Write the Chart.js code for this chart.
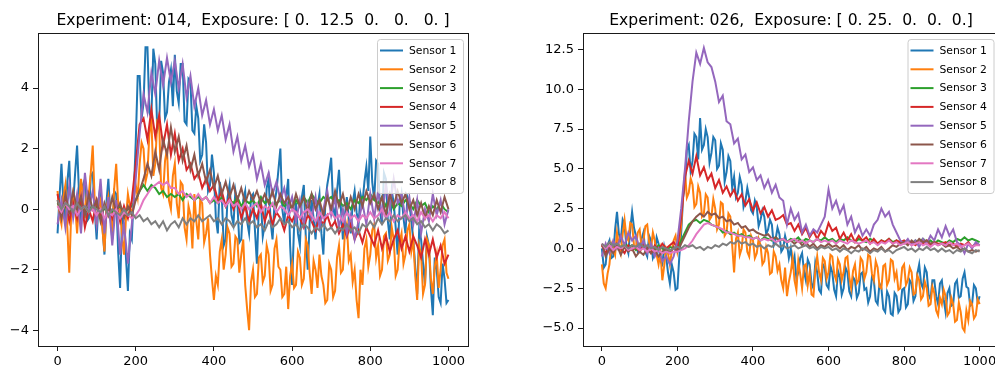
<!DOCTYPE html>
<html>
<head>
<meta charset="utf-8">
<script src="https://cdn.jsdelivr.net/npm/chart.js@4.4.1/dist/chart.umd.min.js"></script>
<style>
html, body { margin:0; padding:0; background:#fff; overflow:hidden; }
body { width:995px; height:369px; position:relative; font-family:"DejaVu Sans", sans-serif; }
.plot { position:absolute; top:0; }
.title { position:absolute; top:12px; font-size:15.6px; line-height:16px; white-space:pre; transform:translateX(-50%); color:#000; }
</style>
</head>
<body>
<div class="plot" style="left:0"><canvas id="leftChart" width="480" height="369"></canvas></div>
<div class="plot" style="left:490px"><canvas id="rightChart" width="520" height="369"></canvas></div>
<div class="title" id="leftTitle" style="left:253px"></div>
<div class="title" id="rightTitle" style="left:791px"></div>
<script>
// sample positions, every 10th step
const xValues = [
  0, 10, 20, 30, 40, 50, 60, 70, 80, 90,
  100, 110, 120, 130, 140, 150, 160, 170, 180, 190,
  200, 210, 220, 230, 240, 250, 260, 270, 280, 290,
  300, 310, 320, 330, 340, 350, 360, 370, 380, 390,
  400, 410, 420, 430, 440, 450, 460, 470, 480, 490,
  500, 510, 520, 530, 540, 550, 560, 570, 580, 590,
  600, 610, 620, 630, 640, 650, 660, 670, 680, 690,
  700, 710, 720, 730, 740, 750, 760, 770, 780, 790,
  800, 810, 820, 830, 840, 850, 860, 870, 880, 890,
  900, 910, 920, 930, 940, 950, 960, 970, 980, 990,
  1000];
// every 5th step, for the noisiest sensors
const xFine = [
  0, 5, 10, 15, 20, 25, 30, 35, 40, 45, 50, 55, 60, 65, 70, 75, 80, 85, 90, 95,
  100, 105, 110, 115, 120, 125, 130, 135, 140, 145, 150, 155, 160, 165, 170, 175, 180, 185, 190, 195,
  200, 205, 210, 215, 220, 225, 230, 235, 240, 245, 250, 255, 260, 265, 270, 275, 280, 285, 290, 295,
  300, 305, 310, 315, 320, 325, 330, 335, 340, 345, 350, 355, 360, 365, 370, 375, 380, 385, 390, 395,
  400, 405, 410, 415, 420, 425, 430, 435, 440, 445, 450, 455, 460, 465, 470, 475, 480, 485, 490, 495,
  500, 505, 510, 515, 520, 525, 530, 535, 540, 545, 550, 555, 560, 565, 570, 575, 580, 585, 590, 595,
  600, 605, 610, 615, 620, 625, 630, 635, 640, 645, 650, 655, 660, 665, 670, 675, 680, 685, 690, 695,
  700, 705, 710, 715, 720, 725, 730, 735, 740, 745, 750, 755, 760, 765, 770, 775, 780, 785, 790, 795,
  800, 805, 810, 815, 820, 825, 830, 835, 840, 845, 850, 855, 860, 865, 870, 875, 880, 885, 890, 895,
  900, 905, 910, 915, 920, 925, 930, 935, 940, 945, 950, 955, 960, 965, 970, 975, 980, 985, 990, 995,
  1000];

const sensorNames = ["Sensor 1", "Sensor 2", "Sensor 3", "Sensor 4", "Sensor 5", "Sensor 6", "Sensor 7", "Sensor 8"];

const leftTitle = "Experiment: 014,  Exposure: [ 0.  12.5  0.   0.   0. ]";
const rightTitle = "Experiment: 026,  Exposure: [ 0. 25.  0.  0.  0.]";

const xTicks = [0, 200, 400, 600, 800, 1000];
const xTickLabels = ["0", "200", "400", "600", "800", "1000"];
const leftYTicks = [-4, -2, 0, 2, 4];
const leftYLabels = ["\u22124", "\u22122", "0", "2", "4"];
const rightYTicks = [-5, -2.5, 0, 2.5, 5, 7.5, 10, 12.5];
const rightYLabels = ["\u22125.0", "\u22122.5", "0.0", "2.5", "5.0", "7.5", "10.0", "12.5"];

// experiment 014
const left1 = [
  -0.8, 0.4, 1.5, 0.2, -0.5, 0.9, 1.6, -0.2, 0.2, 1.2, 2.1, 0.5, -0.6, 0.8, 1.0, -0.4, -0.3, 1.1, 1.2, 0.0,
  -1.0, 0.3, 0.8, -0.6, -1.5, 0.2, 1.0, -0.2, -1.0, 0.6, 0.5, -1.4, -2.6, -0.3, -0.5, -1.6, -2.7, -0.8, -1.0, 0.5,
  2.2, 4.4, 4.4, 3.0, 3.5, 5.35, 5.35, 3.2, 3.0, 5.3, 4.8, 2.6, 2.8, 4.9, 4.5, 3.0, 3.2, 4.2, 4.6, 3.4,
  5.1, 3.9, 3.5, 4.8, 4.8, 2.9, 2.8, 4.3, 4.2, 2.6, 2.5, 3.4, 3.0, 1.6, 1.8, 2.8, 2.2, 0.6, 0.8, 1.8,
  1.2, -0.3, -0.8, 0.9, 0.5, -1.2, -1.0, 0.4, 0.8, -0.2, -0.5, 0.6, 0.2, -1.1, -1.0, 0.3, 0.6, -0.4, -0.8, 0.4,
  0.5, -0.7, -1.8, 0.1, 0.3, -0.9, -0.5, 0.7, 1.0, -0.4, -1.0, 0.2, 0.6, 1.3, 2.0, 0.0, -0.5, 0.4, 1.0, -1.2,
  -2.5, -0.6, 0.2, -0.8, -1.2, 0.4, 0.8, -0.9, -2.0, -0.4, 0.3, -0.3, -1.0, 0.1, 0.5, -0.8, -1.5, 0.2, 0.8, 1.2,
  1.7, 0.1, -0.3, 0.6, 1.3, 0.0, -1.0, -0.2, 0.4, -0.3, -0.8, 0.2, 0.6, -0.1, -0.5, 0.5, 0.2, 0.9, 1.4, 0.6,
  2.4, 0.9, 0.3, 1.6, 1.5, -0.1, -0.5, 1.2, 1.0, -0.4, -1.0, 0.6, 0.2, -0.6, -1.5, 0.1, 0.5, -0.3, -0.8, 0.4,
  0.2, -0.4, -1.0, -1.9, -2.8, -0.7, -1.0, -1.8, -2.5, -0.9, -1.2, -2.6, -3.5, -1.6, -2.0, -2.9, -3.1, -1.8, -2.3, -3.1,
  -3.0];
const left2 = [
  0.6, -0.2, -0.5, 0.4, 0.8, -0.6, -2.1, -0.1, 0.5, 0.1, -0.8, 0.2, 1.0, 0.4, -0.3, 0.6, 0.5, 1.2, 2.1, 0.3,
  -0.5, 0.1, 0.3, -0.7, -1.4, 0.0, 0.4, -0.3, -0.6, 0.7, 1.5, 0.2, 0.0, -0.9, -1.5, -0.3, 0.5, 0.1, -0.2, 0.3,
  0.8, 0.4, 1.5, 2.2, 2.0, 0.9, 1.2, 2.5, 3.0, 1.1, 1.5, 2.9, 2.8, 0.7, 0.5, 1.6, 2.0, 0.3, 0.0, 1.1,
  1.5, 0.2, -0.3, 0.9, 0.8, -0.6, -1.0, 0.1, -0.2, -1.3, 0.5, -0.4, -1.0, 0.3, 0.2, -1.1, -0.8, -0.3, -1.5, -2.3,
  -3.0, -2.2, -2.5, -1.4, -1.0, -2.0, -1.5, -0.6, -0.8, -1.9, -1.8, -0.9, -1.0, -2.1, -1.5, -1.0, -2.5, -3.3, -4.0, -2.4,
  -2.0, -2.9, -2.8, -1.6, -1.5, -2.4, -2.2, -1.2, -1.5, -2.7, -2.5, -1.3, -1.0, -1.9, -2.0, -2.9, -2.8, -1.9, -3.3, -2.2,
  -1.8, -2.6, -2.5, -1.4, -1.6, -2.5, -2.3, -1.0, -1.2, -2.1, -2.8, -1.7, -2.0, -2.6, -1.5, -2.2, -2.5, -3.1, -3.0, -1.8,
  -2.0, -2.9, -2.7, -1.6, -1.2, -2.1, -2.0, -0.8, -0.5, -1.7, -1.5, -2.4, -2.0, -3.0, -3.6, -2.0, -2.5, -1.3, -1.0, -1.9,
  -1.5, -0.7, -0.5, -1.6, -1.2, -2.2, -2.0, -0.9, -0.8, -1.7, -1.5, -0.6, -1.0, -2.2, -2.0, -1.1, -0.8, -1.8, -1.5, -0.7,
  -0.5, -1.4, -1.0, -2.2, -3.0, -1.2, -1.5, -2.8, -2.5, -1.0, -1.2, -2.3, -2.8, -1.9, -1.5, -2.6, -2.0, -1.2, -1.0, -2.1,
  -2.3];
const left3 = [
  0.2, 0.0, 0.1, -0.1, 0.1, 0.0, 0.2, -0.1, 0.1, 0.0,
  0.1, -0.1, 0.0, 0.1, -0.1, 0.0, 0.1, -0.1, 0.0, 0.1,
  0.3, 0.6, 0.8, 0.6, 0.8, 0.7, 0.5, 0.6, 0.4, 0.5,
  0.4, 0.5, 0.3, 0.5, 0.4, 0.3, 0.4, 0.3, 0.4, 0.2,
  0.3, 0.2, 0.4, 0.1, 0.3, 0.2, 0.4, 0.1, 0.3, 0.2,
  0.3, 0.1, 0.4, 0.2, 0.3, 0.1, 0.2, 0.3, 0.1, 0.2,
  0.0, 0.3, 0.1, 0.4, 0.2, 0.5, 0.3, 0.2, 0.4, 0.3,
  0.4, 0.2, 0.3, 0.1, 0.2, 0.0, 0.3, 0.2, 0.4, 0.3,
  0.5, 0.3, 0.2, 0.4, 0.1, 0.3, 0.0, 0.2, 0.1, 0.3,
  0.2, 0.0, 0.3, 0.1, 0.2, -0.1, 0.1, 0.0, 0.2, 0.0,
  -0.1];
const left4 = [
  0.5, -0.2, 0.3, -0.4, 0.2, -0.3, 0.4, -0.6, 0.0, -0.4,
  0.3, -0.2, -0.6, 0.1, -0.3, 0.2, -0.4, 0.1, -0.3, 0.3,
  1.5, 2.8, 3.0, 2.3, 3.3, 2.4, 3.1, 2.1, 2.8, 1.8,
  2.5, 1.6, 2.0, 1.3, 1.5, 1.0, 1.2, 0.7, 1.0, 0.6,
  0.8, 0.3, 0.6, 0.1, 0.4, 0.0, 0.3, -0.3, 0.1, -0.4,
  0.0, -0.3, 0.2, -0.4, 0.0, -0.5, -0.1, -0.3, -0.7, -0.2,
  -0.4, -0.1, -0.3, -0.6, -0.2, -0.4, -0.7, -0.3, -0.5, -0.2,
  -0.6, -0.4, -0.8, -0.5, -0.9, -0.5, -1.0, -0.7, -1.1, -0.6,
  -0.9, -1.2, -0.7, -1.3, -0.9, -1.4, -1.0, -0.7, -1.3, -0.9,
  -1.4, -0.9, -1.2, -1.6, -1.0, -1.5, -1.0, -1.6, -1.2, -1.8,
  -1.5];
const left5 = [
  -0.5, 0.3, -0.6, 0.8, -0.3, 0.5, -0.8, 1.2, 0.0, 0.6,
  -0.5, 1.0, -0.8, 0.4, -1.2, 0.3, -1.5, -0.5, -1.8, -0.5,
  1.0, 2.5, 3.8, 3.2, 4.5, 3.8, 4.9, 4.1, 5.0, 4.2,
  4.9, 4.0, 4.8, 3.7, 4.4, 3.4, 4.0, 3.1, 3.6, 2.8,
  3.3, 2.6, 3.1, 2.3, 2.8, 1.9, 2.4, 1.6, 2.1, 1.4,
  1.8, 1.0, 1.5, 0.8, 1.2, 0.5, 0.9, 0.3, 0.7, 0.0,
  0.4, -0.4, 0.3, -0.5, 0.2, -0.3, 0.4, -0.6, 0.0, 0.6,
  -0.2, 0.4, -0.6, 0.0, -0.8, -0.2, -1.0, -0.4, 0.2, -0.5,
  0.5, -0.3, 0.6, -0.2, 0.8, 0.0, 1.0, 0.2, 0.5, -0.3,
  0.4, -0.5, 0.3, -0.8, 0.0, -0.4, 0.5, -0.2, 0.3, -0.5,
  0.0];
const left6 = [
  0.3, -0.3, 0.5, -0.1, 0.6, 0.0, 0.4, -0.2, 0.5, 0.0,
  0.3, -0.4, 0.2, -0.2, 0.4, -0.1, 0.2, -0.3, 0.1, -0.2,
  0.3, 0.6, 1.0, 1.5, 1.1, 1.9, 1.3, 2.3, 1.8, 2.7,
  1.9, 2.4, 1.6, 2.1, 1.3, 1.8, 1.1, 1.5, 0.9, 1.3,
  0.7, 1.1, 0.5, 0.9, 0.4, 0.8, 0.3, 0.7, 0.2, 0.6,
  0.3, 0.6, 0.2, 0.5, 0.2, 0.6, 0.1, 0.5, 0.2, 0.4,
  0.0, 0.5, 0.1, 0.4, -0.1, 0.5, 0.0, 0.3, -0.2, 0.4,
  0.0, 0.6, 0.1, 0.5, -0.1, 0.4, 0.0, 0.5, 0.1, 0.6,
  0.2, 0.5, 0.0, 0.4, -0.2, 0.5, 0.1, 0.6, 0.2, 0.5,
  0.0, 0.3, -0.2, 0.2, -0.3, 0.1, -0.2, 0.3, -0.1, 0.4,
  0.0];
const left7 = [
  0.1, -0.1, 0.2, 0.0, 0.1, -0.2, 0.0, 0.1, -0.1, 0.0,
  -0.2, 0.0, -0.3, -0.1, -0.2, 0.0, -0.3, -0.1, -0.2, -0.3,
  -0.2, 0.0, 0.3, 0.5, 0.7, 0.8, 0.9, 0.8, 0.9, 0.7,
  0.7, 0.5, 0.6, 0.4, 0.5, 0.3, 0.5, 0.3, 0.4, 0.2,
  0.4, 0.2, 0.3, 0.1, 0.3, 0.1, 0.2, 0.0, 0.2, 0.0,
  0.1, 0.2, -0.1, 0.1, 0.0, 0.2, -0.1, 0.1, 0.0, -0.2,
  0.0, -0.1, -0.3, -0.1, 0.0, -0.2, -0.4, -0.1, -0.3, -0.2,
  -0.1, -0.3, -0.2, -0.4, -0.1, -0.3, -0.2, -0.4, -0.2, -0.3,
  -0.1, -0.3, -0.2, 0.0, -0.3, -0.1, -0.4, -0.2, -0.3, -0.1,
  -0.3, -0.2, -0.4, -0.1, -0.3, -0.2, -0.4, -0.2, -0.3, -0.1,
  -0.3];
const left8 = [
  0.3, 0.0, 0.2, 0.1, -0.1, 0.2, 0.0, 0.1, -0.1, 0.1,
  0.0, -0.1, 0.1, -0.2, 0.0, -0.1, -0.2, 0.0, -0.2, -0.1,
  -0.3, -0.2, -0.4, -0.3, -0.5, -0.4, -0.6, -0.4, -0.7, -0.5,
  -0.4, -0.6, -0.3, -0.5, -0.3, -0.4, -0.2, -0.4, -0.3, -0.2,
  -0.4, -0.3, -0.5, -0.3, -0.4, -0.6, -0.4, -0.5, -0.3, -0.5,
  -0.4, -0.6, -0.5, -0.7, -0.4, -0.6, -0.5, -0.3, -0.5, -0.4,
  -0.6, -0.5, -0.7, -0.5, -0.6, -0.8, -0.6, -0.7, -0.5, -0.7,
  -0.6, -0.8, -0.6, -0.7, -0.5, -0.7, -0.6, -0.8, -0.5, -0.6,
  -0.4, -0.6, -0.3, -0.5, -0.3, -0.4, -0.2, -0.4, -0.3, -0.2,
  -0.4, -0.3, -0.5, -0.4, -0.6, -0.5, -0.7, -0.5, -0.6, -0.8,
  -0.7];

// experiment 026
const right1 = [
  0.0, -1.2, -1.0, 0.2, 0.5, -0.6, -0.5, 1.2, 2.3, 0.9, 0.5, 1.8, 1.5, 0.1, -0.3, 1.2, 2.3, 1.3, 0.8, -0.2,
  0.0, 0.6, 1.0, -0.2, -0.5, 0.8, 0.5, -0.6, -0.3, 0.7, 0.3, -0.8, -1.0, 0.1, -0.5, -1.5, -2.2, -1.0, -1.5, -2.6,
  -2.5, -0.5, 1.0, 3.2, 4.0, 6.2, 6.5, 4.8, 5.5, 7.2, 7.0, 5.6, 8.2, 6.2, 6.5, 7.5, 7.0, 5.4, 6.0, 7.0,
  6.8, 5.0, 5.2, 6.6, 6.2, 4.2, 4.8, 5.8, 5.5, 3.8, 4.5, 3.2, 3.5, 4.5, 4.0, 2.6, 3.0, 3.8, 3.2, 2.4,
  2.2, 3.0, 2.6, 1.4, 1.8, 2.4, 2.0, 0.9, 1.2, 1.8, 1.5, 0.2, 0.6, 1.3, 0.9, -0.2, 0.0, 0.8, 0.3, -0.6,
  0.0, -1.0, -0.5, -1.9, -1.5, -0.6, -0.3, -1.4, -2.0, -0.7, -1.0, -2.2, -2.5, -0.9, -1.5, -2.6, -2.8, -1.0, -1.2, -2.3,
  -2.5, -1.1, -1.5, -2.6, -3.0, -1.4, -1.8, -2.9, -2.5, -1.2, -1.5, -2.7, -3.0, -1.8, -2.0, -3.1, -2.8, -1.6, -1.5, -2.6,
  -2.5, -3.4, -3.0, -1.8, -2.0, -3.3, -3.5, -2.2, -2.5, -3.8, -4.0, -2.7, -3.0, -4.1, -4.2, -2.8, -3.0, -4.0, -3.8, -2.6,
  -2.5, -3.7, -3.5, -2.0, -2.2, -3.3, -3.0, -1.6, -1.0, -2.2, -2.5, -1.2, -1.5, -2.9, -3.2, -2.0, -2.0, -3.0, -3.5, -2.2,
  -2.0, -3.2, -4.0, -2.8, -2.5, -3.6, -3.5, -2.2, -2.0, -3.1, -3.0, -1.9, -1.5, -2.4, -2.5, -3.6, -3.5, -2.3, -2.5, -3.4,
  -3.0];
const right2 = [
  -1.0, -2.2, -2.5, -1.6, -1.0, 0.3, 0.0, -0.4, 1.0, 0.2, -0.3, 0.9, 1.8, 0.7, 0.5, 1.6, 1.5, 0.2, 0.0, 1.0,
  1.2, 0.1, 0.5, 1.4, 1.5, 0.4, 0.0, 1.0, 0.5, -0.4, -1.0, -0.2, -2.0, -1.1, 0.0, -0.3, -1.0, -0.2, 0.5, 0.8,
  -0.2, 0.4, 1.5, 3.4, 4.8, 3.2, 3.5, 4.4, 4.0, 2.6, 2.8, 3.9, 3.5, 2.0, 2.2, 3.4, 3.2, 1.8, 2.0, 3.1,
  2.5, 1.2, 1.5, 2.9, 2.8, 0.8, 1.0, 2.2, 2.0, 0.2, -1.5, 0.6, 1.0, -0.4, 0.0, 1.2, 1.0, -0.2, -0.5, 0.8,
  0.5, -0.6, -0.3, 0.6, 0.2, -1.0, -0.8, 0.1, -0.3, -1.6, -1.5, -0.2, -0.5, -1.4, -1.0, -2.0, -2.5, -1.2, -3.0, -2.1,
  -1.5, -0.6, -2.0, -2.6, -0.8, -1.6, -2.5, -1.1, -1.0, -2.3, -1.5, -2.9, -3.0, -1.4, -0.5, -1.5, -2.0, -0.6, -0.8, -1.9,
  -1.5, -0.4, -0.5, -1.6, -2.0, -0.7, -1.0, -2.0, -1.5, -0.6, -0.5, -1.8, -2.5, -1.4, -1.0, -2.2, -2.0, -0.6, -0.8, -1.9,
  -1.5, -0.4, -0.5, -1.6, -2.0, -0.8, -1.2, -2.4, -2.5, -1.1, -1.0, -2.3, -2.0, -0.7, -0.8, -1.9, -1.5, -2.6, -2.5, -1.2,
  -1.0, -2.3, -2.0, -1.2, -1.5, -2.9, -2.8, -1.7, -2.0, -3.2, -3.0, -2.1, -2.5, -3.6, -3.5, -2.4, -2.8, -3.9, -4.2, -3.1,
  -3.5, -2.6, -3.0, -4.2, -4.0, -3.1, -3.5, -4.6, -4.5, -3.4, -4.0, -5.0, -5.2, -3.9, -4.5, -3.3, -3.5, -4.4, -4.2, -3.2,
  -3.5];
const right3 = [
  0.2, 0.0, 0.3, -0.1, 0.2, 0.0, 0.3, 0.1, 0.2, -0.1,
  0.1, 0.2, 0.0, 0.1, -0.1, 0.2, 0.0, -0.2, 0.1, 0.0,
  0.0, 0.5, 1.0, 1.5, 1.7, 1.8, 1.6, 1.8, 1.7, 1.5,
  1.4, 1.3, 1.0, 1.1, 0.9, 1.0, 0.8, 0.9, 0.7, 0.8,
  0.6, 0.7, 0.5, 0.7, 0.6, 0.5, 0.7, 0.5, 0.6, 0.4,
  0.6, 0.5, 0.7, 0.4, 0.6, 0.5, 0.4, 0.6, 0.5, 0.7,
  0.5, 0.6, 0.4, 0.6, 0.5, 0.7, 0.5, 0.4, 0.6, 0.5,
  0.4, 0.6, 0.5, 0.3, 0.5, 0.4, 0.6, 0.4, 0.5, 0.3,
  0.4, 0.5, 0.3, 0.5, 0.4, 0.6, 0.4, 0.5, 0.3, 0.5,
  0.4, 0.3, 0.5, 0.4, 0.6, 0.5, 0.7, 0.5, 0.6, 0.5,
  0.4];
const right4 = [
  0.2, -0.3, 0.1, -0.2, 0.3, 0.0, -0.3, 0.2, -0.1, 0.1,
  -0.2, 0.3, 0.0, -0.3, 0.2, -0.1, 0.3, 0.0, 0.2, 0.4,
  0.0, 2.0, 4.5, 5.5, 4.7, 5.8, 4.6, 5.1, 4.3, 4.7,
  3.8, 4.3, 3.5, 3.9, 3.3, 3.7, 3.0, 3.4, 2.7, 3.1,
  2.4, 2.9, 2.2, 2.6, 2.0, 2.4, 1.8, 1.9, 2.1, 1.5,
  1.6, 1.1, 1.5, 0.9, 1.3, 0.7, 1.1, 0.6, 1.1, 0.8,
  1.6, 1.1, 1.3, 0.6, 1.0, 0.5, 0.9, 0.4, 0.8, 0.5,
  0.7, 0.3, 0.6, 0.3, 0.5, 0.4, 0.6, 0.3, 0.5, 0.4,
  0.5, 0.3, 0.4, 0.2, 0.4, 0.3, 0.5, 0.2, 0.4, 0.3,
  0.3, 0.4, 0.2, 0.3, 0.1, 0.3, 0.2, 0.4, 0.1, 0.3,
  0.2];
const right5 = [
  -0.5, 0.3, -0.3, 0.5, 0.0, 0.8, 0.2, 1.0, 0.5, 0.8,
  0.0, 0.5, -0.3, 0.3, -0.5, 0.0, -0.8, -0.5, -1.0, -0.5,
  0.5, 2.5, 5.0, 8.0, 10.5, 12.3, 11.6, 12.6, 11.7, 11.4,
  10.5, 9.2, 9.6, 8.0, 7.8, 6.6, 6.9, 5.6, 5.9, 4.8,
  5.1, 4.3, 4.6, 3.8, 4.3, 3.5, 4.0, 3.2, 3.0, 1.5,
  2.5, 1.8, 2.2, 1.0, 1.5, 0.8, 1.2, 1.0, 1.5, 2.0,
  3.7, 2.5, 3.0, 2.2, 2.7, 1.5, 2.0, 1.0, 1.5, 0.8,
  1.2, 0.8, 1.5, 1.8, 2.5, 2.0, 2.3, 1.5, 1.0, 0.5,
  0.3, 0.6, 0.2, 0.5, 0.1, 0.6, 0.3, 0.8, 0.5, 1.2,
  0.7, 1.4, 0.8, 1.2, 0.4, 0.2, -0.3, 0.3, 0.0, 0.4,
  0.2];
const right6 = [
  0.3, -0.5, 0.0, -0.3, 0.2, -0.4, 0.1, -0.2, 0.0, -0.5,
  -0.2, -0.4, 0.0, -0.3, -0.1, -0.5, -0.2, 0.0, -0.3, 0.1,
  -0.2, 0.3, 0.8, 1.3, 1.7, 2.0, 2.2, 2.0, 2.3, 2.1,
  2.2, 1.9, 2.0, 1.7, 1.8, 1.5, 1.6, 1.3, 1.4, 1.1,
  1.2, 1.0, 0.9, 0.8, 0.9, 0.6, 0.7, 0.5, 0.6, 0.4,
  0.5, 0.3, 0.5, 0.2, 0.4, 0.1, 0.3, 0.0, 0.2, 0.1,
  0.3, 0.1, 0.2, 0.0, 0.2, -0.1, 0.1, 0.0, 0.2, -0.1,
  0.1, -0.2, 0.0, -0.1, 0.1, -0.2, 0.0, 0.2, 0.1, 0.3,
  0.4, 0.2, 0.5, 0.3, 0.6, 0.4, 0.5, 0.3, 0.4, 0.2,
  0.3, 0.1, 0.2, 0.0, 0.1, -0.1, 0.0, -0.2, -0.1, -0.2,
  -0.1];
const right7 = [
  0.3, 0.0, 0.2, -0.1, 0.1, 0.0, 0.2, -0.1, 0.0, 0.1,
  -0.1, 0.0, -0.2, 0.0, -0.2, -0.1, -0.3, -0.2, -0.3, -0.2,
  -0.2, -0.1, 0.0, 0.2, 0.5, 0.9, 1.2, 1.5, 1.6, 1.5,
  1.4, 1.3, 1.2, 1.0, 1.0, 0.9, 0.8, 0.8, 0.7, 0.7,
  0.6, 0.7, 0.5, 0.6, 0.5, 0.6, 0.4, 0.5, 0.6, 0.4,
  0.5, 0.6, 0.4, 0.5, 0.3, 0.5, 0.4, 0.6, 0.4, 0.5,
  0.4, 0.5, 0.3, 0.5, 0.4, 0.3, 0.5, 0.4, 0.3, 0.4,
  0.5, 0.3, 0.4, 0.2, 0.4, 0.3, 0.5, 0.3, 0.4, 0.2,
  0.3, 0.4, 0.2, 0.3, 0.4, 0.2, 0.3, 0.1, 0.3, 0.2,
  0.3, 0.2, 0.4, 0.2, 0.3, 0.1, 0.2, 0.3, 0.1, 0.2,
  0.2];
const right8 = [
  0.3, 0.1, 0.4, 0.2, 0.3, 0.1, 0.2, 0.0, 0.2, 0.1,
  0.3, 0.1, 0.2, 0.0, 0.1, -0.1, 0.1, 0.0, -0.1, 0.0,
  0.1, 0.0, 0.2, 0.1, 0.2, 0.0, 0.1, -0.1, 0.1, 0.0,
  0.2, 0.1, 0.3, 0.2, 0.4, 0.3, 0.5, 0.3, 0.4, 0.2,
  0.3, 0.1, 0.2, 0.0, 0.2, 0.1, 0.3, 0.1, 0.2, 0.0,
  0.1, 0.2, 0.0, 0.1, 0.2, 0.0, 0.1, -0.1, 0.1, 0.0,
  0.1, -0.1, 0.0, -0.2, 0.0, -0.1, -0.3, -0.1, -0.2, 0.0,
  -0.1, -0.3, -0.1, -0.2, 0.0, -0.2, -0.1, -0.3, -0.1, 0.0,
  0.1, -0.1, 0.0, -0.2, 0.0, -0.1, 0.1, -0.1, 0.0, -0.2,
  0.0, -0.2, -0.1, -0.3, -0.1, -0.2, 0.0, -0.2, -0.3, -0.1,
  -0.2];

// matplotlib tab10
const colors = ["#1f77b4", "#ff7f0e", "#2ca02c", "#d62728", "#9467bd", "#8c564b", "#e377c2", "#7f7f7f"];

Chart.defaults.font.family = "'DejaVu Sans', sans-serif";
Chart.defaults.color = "#000";

document.getElementById("leftTitle").textContent = leftTitle;
document.getElementById("rightTitle").textContent = rightTitle;

// legend box inside the plot, upper right, like plt.legend()
const insideLegend = {
  id: "insideLegend",
  afterDatasetsDraw(chart) {
    let ctx = chart.ctx;
    let area = chart.chartArea;
    let w = 86, h = 154, row = 18.8;
    let x0 = area.right - 5 - w;
    let y0 = area.top + 6;
    ctx.save();
    ctx.beginPath();
    ctx.roundRect(x0 + 0.5, y0 + 0.5, w, h, 3);
    ctx.fillStyle = "rgba(255,255,255,0.8)";
    ctx.fill();
    ctx.strokeStyle = "#cccccc";
    ctx.lineWidth = 1;
    ctx.stroke();
    ctx.font = "10.8px 'DejaVu Sans'";
    ctx.textBaseline = "middle";
    ctx.fillStyle = "#000";
    chart.data.datasets.forEach(function(ds, i){
      let cy = y0 + 11.5 + i * row;
      ctx.beginPath();
      ctx.moveTo(x0 + 3, cy);
      ctx.lineTo(x0 + 26, cy);
      ctx.strokeStyle = ds.borderColor;
      ctx.lineWidth = 2;
      ctx.stroke();
      ctx.fillText(ds.label, x0 + 32, cy + 0.5);
    });
    ctx.restore();
  },
  afterDraw(chart) {
    // full axes frame
    let ctx = chart.ctx;
    let a = chart.chartArea;
    ctx.save();
    ctx.strokeStyle = "#1a1a1a";
    ctx.lineWidth = 1;
    ctx.strokeRect(Math.round(a.left) + 0.5, Math.round(a.top) + 0.5, Math.round(a.right - a.left), Math.round(a.bottom - a.top));
    ctx.restore();
  }
};

function makeChart(id, series, yMin, yMax, yTicks, yLabels, yAxisWidth, rightPad){
  let datasets = series.map(function(s, i){
    let xs = s.length === xFine.length ? xFine : xValues;
    return {
      label: sensorNames[i],
      data: xs.map(function(x, j){ return {x: x, y: s[j]}; }),
      borderColor: colors[i],
      backgroundColor: colors[i],
      borderWidth: 2,
      pointRadius: 0,
      tension: 0,
      fill: false,
      order: series.length - i
    };
  });
  return new Chart(document.getElementById(id), {
    type: "line",
    data: {datasets: datasets},
    plugins: [insideLegend],
    options: {
      responsive: false,
      animation: false,
      layout: {padding: {top: 33, right: rightPad, left: 0, bottom: 0}},
      plugins: {legend: {display: false}, tooltip: {enabled: false}},
      scales: {
        x: {
          type: "linear",
          min: -50,
          max: 1050,
          afterBuildTicks: function(scale){ scale.ticks = xTicks.map(function(v){ return {value: v}; }); },
          afterFit: function(scale){ scale.height = 23; },
          ticks: {
            callback: function(v, i){ return xTickLabels[i]; },
            font: {size: 13},
            color: "#000",
            padding: 3,
            maxRotation: 0,
            autoSkip: false
          },
          grid: {drawOnChartArea: false, drawTicks: true, tickLength: 5, tickColor: "#1a1a1a", tickWidth: 1},
          border: {display: false}
        },
        y: {
          type: "linear",
          min: yMin,
          max: yMax,
          afterBuildTicks: function(scale){ scale.ticks = yTicks.map(function(v){ return {value: v}; }); },
          afterFit: function(scale){ scale.width = yAxisWidth; },
          ticks: {
            callback: function(v, i){ return yLabels[i]; },
            font: {size: 13},
            color: "#000",
            padding: 4,
            autoSkip: false
          },
          grid: {drawOnChartArea: false, drawTicks: true, tickLength: 5, tickColor: "#1a1a1a", tickWidth: 1},
          border: {display: false}
        }
      }
    }
  });
}

makeChart("leftChart", [left1, left2, left3, left4, left5, left6, left7, left8],
  -4.52, 5.82, leftYTicks, leftYLabels, 38, 12);
makeChart("rightChart", [right1, right2, right3, right4, right5, right6, right7, right8],
  -6.13, 13.54, rightYTicks, rightYLabels, 93, 11.5);
</script>
</body>
</html>
